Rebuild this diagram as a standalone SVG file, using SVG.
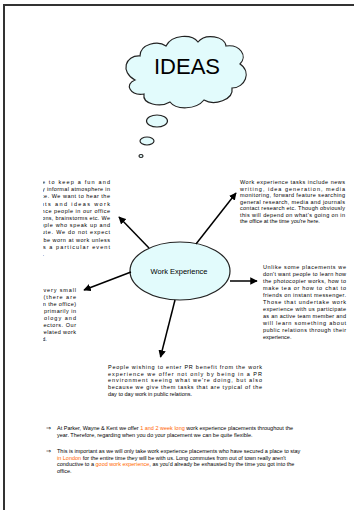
<svg xmlns="http://www.w3.org/2000/svg" width="354" height="510" viewBox="0 0 354 510">
<style>
.t{font-family:"Liberation Sans",Arial,sans-serif;font-size:5.5px;fill:#000}
.o{fill:#ff6600}
.sh{fill:#e2fbfc;stroke:#222;stroke-width:1.2}
.ar{stroke:#000;stroke-width:1.5;fill:none;marker-end:url(#ah)}
</style>
<defs>
<marker id="ah" viewBox="0 0 10 10" refX="9" refY="5" markerWidth="5" markerHeight="5" orient="auto" markerUnits="strokeWidth">
<path d="M0,0 L10,5 L0,10 z" fill="#000"/>
</marker>
<clipPath id="cl"><rect x="43" y="0" width="120" height="510"/></clipPath>
</defs>
<rect width="354" height="510" fill="#fff"/>
<g id="page"><path d="M4,510 V5 H354" fill="none" stroke="#333" stroke-width="2"/></g>

<g id="ideas">
<path class="sh" d="M135,80 C120,72 125,55 140,56 C140,44 158,40 166,46 C172,34 192,34 198,42 C205,33 225,36 226,46 C240,44 248,56 240,64 C252,72 245,88 232,88 C234,100 214,106 204,100 C196,110 176,110 170,102 C160,108 142,104 144,94 C130,96 124,84 135,80 Z"/>
<ellipse class="sh" cx="157" cy="121" rx="10.5" ry="6"/>
<ellipse class="sh" cx="147" cy="141" rx="7" ry="4"/>
<ellipse class="sh" cx="141" cy="156" rx="2" ry="1.5"/>
<text x="187" y="74" font-family="Liberation Sans, Arial, sans-serif" font-size="22" text-anchor="middle">IDEAS</text>
</g>

<g id="work-experience">
<ellipse class="sh" cx="180" cy="271" rx="50" ry="29" stroke="#000"/>
<text x="179" y="274" font-family="Liberation Sans, Arial, sans-serif" font-size="7.5" text-anchor="middle">Work Experience</text>
</g>

<g id="connectors">
<line class="ar" x1="149" y1="248" x2="119" y2="217"/>
<line class="ar" x1="196" y1="244" x2="236" y2="193"/>
<line class="ar" x1="230" y1="281" x2="257" y2="281"/>
<line class="ar" x1="131" y1="272" x2="84" y2="290"/>
<line class="ar" x1="175" y1="300" x2="160.5" y2="357"/>
</g>

<g id="fun" clip-path="url(#cl)">
<text class="t" x="20" y="184" textLength="90" lengthAdjust="spacing">We like to keep a fun and</text>
<text class="t" x="20" y="191.2" textLength="90" lengthAdjust="spacing">relatively informal atmosphere in</text>
<text class="t" x="20" y="198.4" textLength="90" lengthAdjust="spacing">our office. We want to hear the</text>
<text class="t" x="20" y="205.6" textLength="90" lengthAdjust="spacing">thoughts and ideas work</text>
<text class="t" x="20" y="212.8" textLength="90" lengthAdjust="spacing">experience people in our office</text>
<text class="t" x="20" y="220" textLength="90" lengthAdjust="spacing">discussions, brainstorms etc. We</text>
<text class="t" x="20" y="227.2" textLength="90" lengthAdjust="spacing">like people who speak up and</text>
<text class="t" x="20" y="234.4" textLength="90" lengthAdjust="spacing">contribute. We do not expect</text>
<text class="t" x="20" y="241.6" textLength="90" lengthAdjust="spacing">suits to be worn at work unless</text>
<text class="t" x="20" y="248.8" textLength="90" lengthAdjust="spacing">there is a particular event</text>
<text class="t" x="20" y="256">occurring.</text>
</g>

<g id="tasks">
<text class="t" x="240" y="184" textLength="105" lengthAdjust="spacing">Work experience tasks include news</text>
<text class="t" x="240" y="190.5" textLength="105" lengthAdjust="spacing">writing, idea generation, media</text>
<text class="t" x="240" y="197" textLength="105" lengthAdjust="spacing">monitoring, forward feature searching</text>
<text class="t" x="240" y="203.5" textLength="105" lengthAdjust="spacing">general research, media and journals</text>
<text class="t" x="240" y="210" textLength="105" lengthAdjust="spacing">contact research etc. Though obviously</text>
<text class="t" x="240" y="216.5" textLength="105" lengthAdjust="spacing">this will depend on what's going on in</text>
<text class="t" x="240" y="223">the office at the time you're here.</text>
</g>

<g id="company" clip-path="url(#cl)">
<text class="t" x="12" y="292" textLength="64" lengthAdjust="spacing">We are a very small</text>
<text class="t" x="12" y="299" textLength="64" lengthAdjust="spacing">company (there are</text>
<text class="t" x="12" y="306" textLength="64" lengthAdjust="spacing">only of us in the office)</text>
<text class="t" x="12" y="313" textLength="64" lengthAdjust="spacing">that works primarily in</text>
<text class="t" x="12" y="320" textLength="64" lengthAdjust="spacing">the technology and</text>
<text class="t" x="12" y="327" textLength="64" lengthAdjust="spacing">business sectors. Our</text>
<text class="t" x="12" y="334" textLength="64" lengthAdjust="spacing">consumer related work</text>
<text class="t" x="12" y="341">is very limited.</text>
</g>

<g id="unlike">
<text class="t" x="263" y="269" textLength="83" lengthAdjust="spacing">Unlike some placements we</text>
<text class="t" x="263" y="276" textLength="83" lengthAdjust="spacing">don't want people to learn how</text>
<text class="t" x="263" y="283" textLength="83" lengthAdjust="spacing">the photocopier works, how to</text>
<text class="t" x="263" y="290" textLength="83" lengthAdjust="spacing">make tea or how to chat to</text>
<text class="t" x="263" y="297" textLength="83" lengthAdjust="spacing">friends on instant messenger.</text>
<text class="t" x="263" y="304" textLength="83" lengthAdjust="spacing">Those that undertake work</text>
<text class="t" x="263" y="311" textLength="83" lengthAdjust="spacing">experience with us participate</text>
<text class="t" x="263" y="318" textLength="83" lengthAdjust="spacing">as an active team member and</text>
<text class="t" x="263" y="325" textLength="83" lengthAdjust="spacing">will learn something about</text>
<text class="t" x="263" y="332" textLength="83" lengthAdjust="spacing">public relations through their</text>
<text class="t" x="263" y="339">experience.</text>
</g>

<g id="people">
<text class="t" x="108" y="369" textLength="154" lengthAdjust="spacing">People wishing to enter PR benefit from the work</text>
<text class="t" x="108" y="375.7" textLength="154" lengthAdjust="spacing">experience we offer not only by being in a PR</text>
<text class="t" x="108" y="382.4" textLength="154" lengthAdjust="spacing">environment seeing what we're doing, but also</text>
<text class="t" x="108" y="389.1" textLength="154" lengthAdjust="spacing">because we give them tasks that are typical of the</text>
<text class="t" x="108" y="395.8">day to day work in public relations.</text>
</g>

<g id="bullets">
<text class="t" x="46" y="430" font-size="7">⇒</text>
<text class="t" x="57" y="430">At Parker, Wayne &amp; Kent we offer <tspan class="o">1 and 2 week long</tspan> work experience placements throughout the</text>
<text class="t" x="57" y="437">year. Therefore, regarding when you do your placement we can be quite flexible.</text>
<text class="t" x="46" y="453" font-size="7">⇒</text>
<text class="t" x="57" y="453">This is important as we will only take work experience placements who have secured a place to stay</text>
<text class="t" x="57" y="459.7"><tspan class="o">in London</tspan> for the entire time they will be with us. Long commutes from out of town really aren't</text>
<text class="t" x="57" y="466.4">conductive to a <tspan class="o">good work experience</tspan>, as you'd already be exhausted by the time you got into the</text>
<text class="t" x="57" y="473.1">office.</text>
</g>
</svg>
